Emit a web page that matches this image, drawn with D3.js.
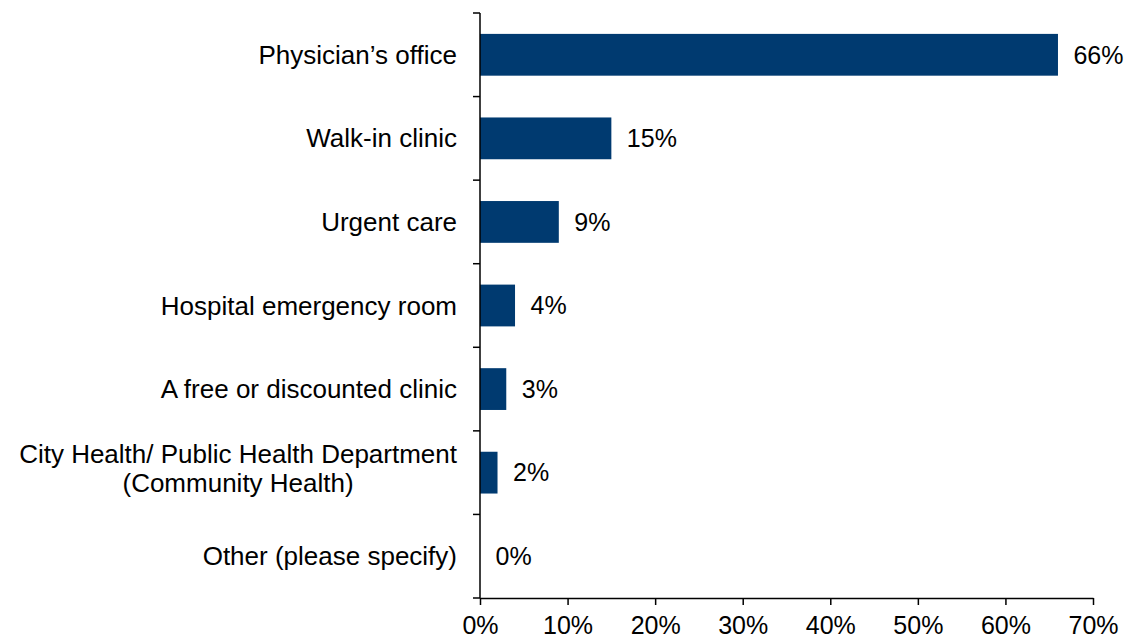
<!DOCTYPE html>
<html>
<head>
<meta charset="utf-8">
<script src="https://cdn.jsdelivr.net/npm/d3@7"></script>
<style>
  html, body { margin: 0; padding: 0; background: #fff; }
  svg { display: block; font-family: "Liberation Sans", Arial, sans-serif; }
</style>
</head>
<body>
<svg id="chart" width="1128" height="640"></svg>
<script>
// Where respondents go for care (share of responses)
const categories = [
  "Physician\u2019s office",
  "Walk-in clinic",
  "Urgent care",
  "Hospital emergency room",
  "A free or discounted clinic",
  "City Health/ Public Health Department\n(Community Health)",
  "Other (please specify)"
];
const values = [66, 15, 9, 4, 3, 2, 0];
const xTicks = [0, 10, 20, 30, 40, 50, 60, 70];

const svg = d3.select("#chart");
const plotLeft = 480, plotRight = 1093, plotTop = 13, plotBottom = 598;
const barColor = "#003A70";
const catFont = 26, numFont = 25;

const x = d3.scaleLinear().domain([0, 70]).range([plotLeft, plotRight]);
const y = d3.scaleBand().domain(categories).range([plotTop, plotBottom]).paddingInner(0.5).paddingOuter(0.25);

// Bars
svg.append("g").selectAll("rect")
  .data(values)
  .join("rect")
  .attr("x", x(0))
  .attr("y", (d, i) => y(categories[i]))
  .attr("width", d => x(d) - x(0))
  .attr("height", y.bandwidth())
  .attr("fill", barColor);

// Value labels
svg.append("g").selectAll("text")
  .data(values)
  .join("text")
  .attr("x", d => x(d) + 15.5)
  .attr("y", (d, i) => y(categories[i]) + y.bandwidth() / 2)
  .attr("dy", "0.35em")
  .attr("font-size", numFont)
  .attr("fill", "#000")
  .text(d => d + "%");

// Category labels: right aligned block, multi-line labels centred within it
const labelRight = 457;
const catG = svg.append("g");
categories.forEach(c => {
  const lines = c.split("\n");
  const cy = y(c) + y.bandwidth() / 2;
  const lh = 29;
  const multi = lines.length > 1;
  const t = catG.append("text")
    .attr("text-anchor", multi ? "middle" : "end")
    .attr("font-size", catFont)
    .attr("fill", "#000");
  const spans = lines.map((ln, i) => t.append("tspan")
    .attr("x", labelRight)
    .attr("y", cy + (i - (lines.length - 1) / 2) * lh - (multi ? 4 : 0))
    .attr("dy", "0.35em")
    .text(ln));
  if (multi) {
    const maxW = d3.max(spans, s => s.node().getComputedTextLength());
    spans.forEach(s => s.attr("x", labelRight - maxW / 2));
  }
});

// Category axis: vertical line with ticks at band boundaries
const bounds = d3.range(categories.length + 1).map(i => plotTop + i * (plotBottom - plotTop) / categories.length);
const yAxisG = svg.append("g");
yAxisG.append("line")
  .attr("x1", plotLeft).attr("x2", plotLeft)
  .attr("y1", plotTop).attr("y2", plotBottom)
  .attr("stroke", "#000").attr("stroke-width", 1.5);
yAxisG.selectAll("line.tick")
  .data(bounds)
  .join("line")
  .attr("class", "tick")
  .attr("x1", plotLeft - 7).attr("x2", plotLeft)
  .attr("y1", d => d).attr("y2", d => d)
  .attr("stroke", "#000").attr("stroke-width", 1.5);

// Value axis
const xAxis = d3.axisBottom(x)
  .tickValues(xTicks)
  .tickFormat(d => d + "%")
  .tickSizeInner(7)
  .tickSizeOuter(0)
  .tickPadding(11);
const xg = svg.append("g")
  .attr("transform", `translate(0,${plotBottom})`)
  .call(xAxis);
xg.select(".domain").attr("stroke", "#000").attr("stroke-width", 1.5);
xg.selectAll(".tick line").attr("stroke", "#000").attr("stroke-width", 1.5);
xg.selectAll(".tick text")
  .attr("font-size", numFont)
  .attr("font-family", "\"Liberation Sans\", Arial, sans-serif")
  .attr("fill", "#000");
</script>
</body>
</html>
